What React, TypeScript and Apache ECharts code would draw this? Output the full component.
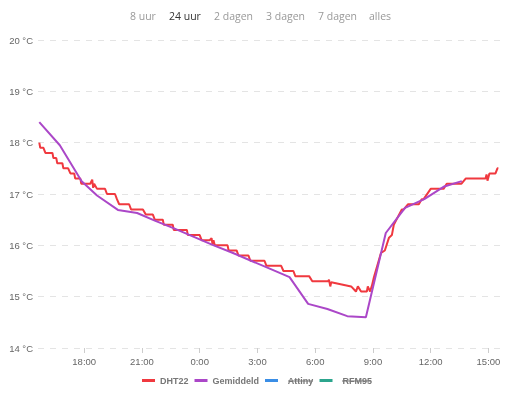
import React, { useEffect, useRef } from "react";
import * as echarts from "echarts";

const rangeNames = ["8 uur", "24 uur", "2 dagen", "3 dagen", "7 dagen", "alles"];
const rangeX = [130, 169, 214, 266, 318, 369];
const activeRange = "24 uur";

const axisStart = "2024-03-09 15:36";
const axisEnd = "2024-03-10 15:36";
const xTickTimes = [
  "2024-03-09 18:00", "2024-03-09 21:00", "2024-03-10 00:00", "2024-03-10 03:00",
  "2024-03-10 06:00", "2024-03-10 09:00", "2024-03-10 12:00", "2024-03-10 15:00",
];

const seriesNames = ["DHT22", "Gemiddeld", "Attiny", "RFM95"];
const seriesColors = ["#f0393f", "#ab47c8", "#3a8ee6", "#2ca58d"];
const hiddenNames = ["Attiny", "RFM95"];

const dhtTimes = [
  "09 15:40", "09 15:43", "09 15:53", "09 15:59", "09 16:21", "09 16:24", "09 16:33", "09 16:36",
  "09 16:52", "09 16:55", "09 17:10", "09 17:17", "09 17:29", "09 17:32", "09 17:48", "09 17:51",
  "09 18:19", "09 18:25", "09 18:28", "09 18:31", "09 18:40", "09 19:05", "09 19:11", "09 19:36",
  "09 19:42", "09 19:49", "09 20:20", "09 20:26", "09 21:03", "09 21:12", "09 21:34", "09 21:40",
  "09 22:05", "09 22:08", "09 22:36", "09 22:39", "09 23:20", "09 23:23", "10 00:00", "10 00:06",
  "10 00:31", "10 00:37", "10 00:40", "10 00:43", "10 00:47", "10 01:27", "10 01:30", "10 01:55",
  "10 02:01", "10 02:32", "10 02:38", "10 03:22", "10 03:28", "10 04:14", "10 04:21", "10 04:52",
  "10 04:58", "10 05:41", "10 05:51", "10 06:40", "10 06:43", "10 06:47", "10 06:50", "10 07:52",
  "10 08:07", "10 08:13", "10 08:23", "10 08:41", "10 08:44", "10 08:51", "10 08:57", "10 09:03",
  "10 09:25", "10 09:37", "10 09:50", "10 09:59", "10 10:05", "10 10:30", "10 10:36", "10 10:49",
  "10 11:23", "10 11:32", "10 11:38", "10 12:00", "10 12:40", "10 12:50", "10 13:36", "10 13:49",
  "10 14:51", "10 14:54", "10 14:57", "10 15:03", "10 15:22", "10 15:28", "10 15:31",
];
const dhtValues = [
  18.0, 17.9, 17.9, 17.8, 17.8, 17.7, 17.7, 17.6,
  17.6, 17.5, 17.5, 17.4, 17.4, 17.3, 17.3, 17.2,
  17.2, 17.28, 17.12, 17.2, 17.1, 17.1, 17.0, 17.0,
  16.9, 16.8, 16.8, 16.7, 16.7, 16.6, 16.6, 16.5,
  16.5, 16.4, 16.4, 16.3, 16.3, 16.2, 16.2, 16.1,
  16.1, 16.14, 16.02, 16.1, 16.0, 16.0, 15.9, 15.9,
  15.8, 15.8, 15.7, 15.7, 15.6, 15.6, 15.5, 15.5,
  15.4, 15.4, 15.3, 15.3, 15.33, 15.2, 15.28, 15.2,
  15.1, 15.2, 15.1, 15.1, 15.2, 15.1, 15.22, 15.38,
  15.85, 15.9, 16.15, 16.2, 16.4, 16.7, 16.7, 16.8,
  16.8, 16.9, 16.9, 17.1, 17.1, 17.2, 17.2, 17.3,
  17.3, 17.38, 17.26, 17.4, 17.4, 17.5, 17.5,
];

const avgTimes = [
  "09 15:40", "09 16:44", "09 17:52", "09 18:40", "09 19:45", "09 20:45", "09 21:40", "09 22:40",
  "09 23:40", "10 00:40", "10 01:40", "10 02:40", "10 03:40", "10 04:40", "10 05:38", "10 06:38",
  "10 07:40", "10 08:38", "10 09:40", "10 10:40", "10 11:40", "10 12:40", "10 13:37",
];
const avgValues = [
  18.4, 17.95, 17.25, 16.97, 16.69, 16.63, 16.48, 16.33,
  16.17, 16.01, 15.86, 15.7, 15.54, 15.38, 14.86, 14.76,
  14.62, 14.6, 16.24, 16.73, 16.9, 17.14, 17.25,
];

const yMin = 14;
const yMax = 20;
const yStep = 1;

function ts(s: string): number {
  const [d, hm] = s.split(" ");
  const [h, m] = hm.split(":").map(Number);
  return new Date(2024, 2, Number(d), h, m).getTime();
}
function tsFull(s: string): number {
  const [date, hm] = s.split(" ");
  const [y, mo, d] = date.split("-").map(Number);
  const [h, m] = hm.split(":").map(Number);
  return new Date(y, mo - 1, d, h, m).getTime();
}

export default function App() {
  const ref = useRef<HTMLDivElement>(null);
  useEffect(() => {
    const chart = echarts.init(ref.current!, undefined, { renderer: "svg" });
    const ticks = xTickTimes.map(tsFull);
    const dht = dhtTimes.map((t, i) => [ts(t), dhtValues[i]]);
    const avg = avgTimes.map((t, i) => [ts(t), avgValues[i]]);
    const dataMap: Record<string, number[][]> = { DHT22: dht, Gemiddeld: avg, Attiny: [], RFM95: [] };
    chart.setOption({
      animation: false,
      grid: { left: 38, right: 18, top: 40, bottom: 46 },
      xAxis: {
        type: "value",
        min: tsFull(axisStart),
        max: tsFull(axisEnd),
        axisLine: { show: false },
        axisTick: { show: true, customValues: ticks, length: 5, lineStyle: { color: "#ccc" } },
        splitLine: { show: false },
        axisLabel: {
          customValues: ticks,
          color: "#666",
          fontSize: 9.5,
          fontFamily: "Liberation Sans",
          margin: 8,
          formatter: (v: number) => {
            const d = new Date(v);
            return d.getHours() + ":" + String(d.getMinutes()).padStart(2, "0");
          },
        },
      },
      yAxis: {
        type: "value",
        min: yMin,
        max: yMax,
        interval: yStep,
        axisLine: { show: false },
        axisTick: { show: false },
        splitLine: { lineStyle: { color: "#e4e4e4", type: [6, 6], width: 1 } },
        axisLabel: { formatter: "{value} °C", color: "#666", fontSize: 9.5, fontFamily: "Liberation Sans", margin: 5 },
      },
      legend: {
        left: 137,
        top: 371,
        itemWidth: 13,
        itemHeight: 3,
        itemGap: 6,
        icon: "rect",
        selectedMode: false,
        textStyle: { color: "#777", fontSize: 9, fontWeight: "bold", fontFamily: "Liberation Sans" },
        formatter: (n: string) => (hiddenNames.includes(n) ? "  " + n : n),
        data: seriesNames,
      },
      series: seriesNames.map((n, i) => ({
        name: n,
        type: "line",
        data: dataMap[n],
        showSymbol: false,
        symbol: "none",
        color: seriesColors[i],
        lineStyle: { width: 2, color: seriesColors[i] },
      })),
      graphic: [
        ...rangeNames.map((n, i) => ({
          type: "text",
          left: rangeX[i],
          top: 10,
          style: {
            text: n,
            fill: n === activeRange ? "#333" : "#999",
            fontSize: 10.5,
            fontFamily: "Open Sans",
          },
        })),
        { type: "line", shape: { x1: 288, y1: 381, x2: 313, y2: 381 }, style: { stroke: "#777", lineWidth: 1 } },
        { type: "line", shape: { x1: 342, y1: 381, x2: 371, y2: 381 }, style: { stroke: "#777", lineWidth: 1 } },
      ],
    });
    return () => chart.dispose();
  }, []);
  return <div ref={ref} style={{ position: "fixed", left: 0, top: 0, width: 518, height: 394 }} />;
}
